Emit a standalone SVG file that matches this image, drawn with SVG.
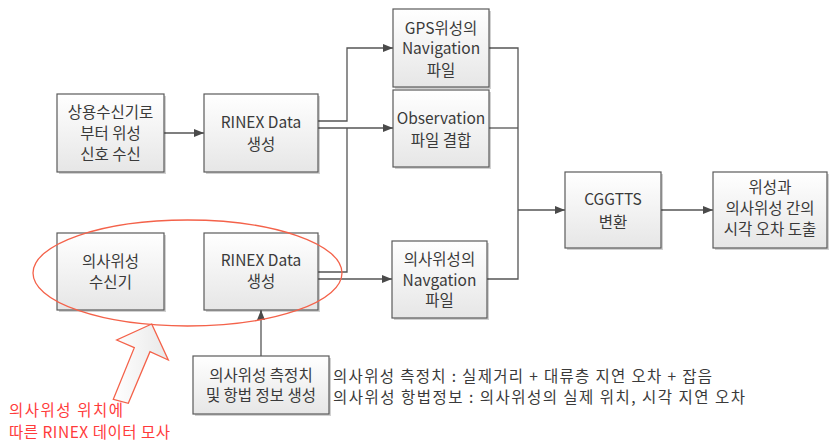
<svg xmlns="http://www.w3.org/2000/svg" width="830" height="442" viewBox="0 0 830 442">
<defs>
<linearGradient id="boxg" x1="0" y1="0" x2="0" y2="1">
<stop offset="0" stop-color="#ffffff"/>
<stop offset="1" stop-color="#e6e6e6"/>
</linearGradient>
<linearGradient id="arrg" x1="0" y1="0" x2="1" y2="0">
<stop offset="0" stop-color="#ffffff"/>
<stop offset="1" stop-color="#e8e8e8"/>
</linearGradient>
<marker id="ah" markerUnits="userSpaceOnUse" markerWidth="10" markerHeight="8" refX="10" refY="4" orient="auto">
<path d="M0,0 L10,4 L0,8 z" fill="#4a4a4a"/>
</marker>
</defs>
<style>
.box{fill:url(#boxg);stroke:#5a5a5a;stroke-width:1.2}
.sh{fill:#000;opacity:0.18}
.t{font-family:"Noto Sans CJK KR","Noto Sans",sans-serif;font-size:15.5px;fill:#3a3a3a;text-anchor:middle}
.ann{font-family:"Noto Sans CJK KR","Noto Sans",sans-serif;font-size:15.5px;fill:#3a3a3a}
.red{font-family:"Noto Sans CJK KR","Noto Sans",sans-serif;font-size:15.5px;fill:#ff3b3b}
.c{fill:none;stroke:#555555;stroke-width:1.3}
.ca{fill:none;stroke:#555555;stroke-width:1.3;marker-end:url(#ah)}
</style>
<rect width="830" height="442" fill="#ffffff"/>

<g id="connectors">
<path class="ca" d="M164,133 H204"/>
<path class="ca" d="M318,121 H347 V48 H393"/>
<path class="ca" d="M318,128 H393"/>
<path class="c" d="M318,272 H347 V128"/>
<path class="ca" d="M318,279 H392"/>
<path class="c" d="M489,48 H518 V279 H487"/>
<path class="c" d="M489,128 H518"/>
<path class="ca" d="M518,210 H565"/>
<path class="ca" d="M661,210 H713"/>
<path class="ca" d="M261,356 V310"/>
</g>

<g id="n_commercial">
<rect class="sh" x="59" y="96" width="107" height="78"/>
<rect class="box" x="57" y="94" width="107" height="78"/>
<text class="t" x="110.5" y="117.6">상용수신기로</text>
<text class="t" x="110.5" y="138.6">부터 위성</text>
<text class="t" x="110.5" y="159.6">신호 수신</text>
</g>

<g id="n_rinex1">
<rect class="sh" x="206" y="96" width="114" height="78"/>
<rect class="box" x="204" y="94" width="114" height="78"/>
<text class="t" x="261" y="127.8">RINEX Data</text>
<text class="t" x="261" y="149.8">생성</text>
</g>

<g id="n_gpsnav">
<rect class="sh" x="395" y="11" width="96" height="78"/>
<rect class="box" x="393" y="9" width="96" height="78"/>
<text class="t" x="441" y="33.8">GPS위성의</text>
<text class="t" x="441" y="54.1">Navigation</text>
<text class="t" x="441" y="75.6">파일</text>
</g>

<g id="n_obs">
<rect class="sh" x="395" y="92" width="96" height="77"/>
<rect class="box" x="393" y="90" width="96" height="77"/>
<text class="t" x="441" y="123.6">Observation</text>
<text class="t" x="441" y="145.6">파일 결합</text>
</g>

<g id="n_cggtts">
<rect class="sh" x="567" y="174" width="96" height="76"/>
<rect class="box" x="565" y="172" width="96" height="76"/>
<text class="t" x="613" y="205.2">CGGTTS</text>
<text class="t" x="613" y="227.6">변환</text>
</g>

<g id="n_result">
<rect class="sh" x="715" y="174" width="114" height="76"/>
<rect class="box" x="713" y="172" width="114" height="76"/>
<text class="t" x="770" y="192.6">위성과</text>
<text class="t" x="770" y="214.1">의사위성 간의</text>
<text class="t" x="770" y="235.1">시각 오차 도출</text>
</g>

<g id="n_plnav">
<rect class="sh" x="394" y="243" width="95" height="77"/>
<rect class="box" x="392" y="241" width="95" height="77"/>
<text class="t" x="439.5" y="265.4">의사위성의</text>
<text class="t" x="439.5" y="285.6">Navgation</text>
<text class="t" x="439.5" y="305.8">파일</text>
</g>

<g id="n_plrecv">
<rect class="sh" x="59" y="235" width="107" height="77"/>
<rect class="box" x="57" y="233" width="107" height="77"/>
<text class="t" x="110.5" y="266.8">의사위성</text>
<text class="t" x="110.5" y="287.5">수신기</text>
</g>

<g id="n_rinex2">
<rect class="sh" x="206" y="235" width="114" height="77"/>
<rect class="box" x="204" y="233" width="114" height="77"/>
<text class="t" x="261" y="266.1">RINEX Data</text>
<text class="t" x="261" y="286.8">생성</text>
</g>

<g id="n_measure">
<rect class="sh" x="195" y="358" width="136" height="58"/>
<rect class="box" x="193" y="356" width="136" height="58"/>
<text class="t" x="261" y="380.6">의사위성 측정치</text>
<text class="t" x="261" y="401">및 항법 정보 생성</text>
</g>

<g id="annotation">
<text class="ann" x="333" y="382.4" textLength="379" lengthAdjust="spacing">의사위성 측정치 : 실제거리 + 대류층 지연 오차 + 잡음</text>
<text class="ann" x="333" y="403" textLength="412" lengthAdjust="spacing">의사위성 항법정보 : 의사위성의 실제 위치, 시각 지연 오차</text>
</g>

<g id="highlight">
<ellipse cx="187.5" cy="273" rx="154.5" ry="53" fill="none" stroke="#f4624a" stroke-width="1.3"/>
<path d="M151.7,324 L168.3,360 L150,351.7 L128.3,403.3 L113.3,399.3 L134.3,347.7 L116.7,340 Z" fill="url(#arrg)" stroke="#f4624a" stroke-width="1.3" stroke-linejoin="miter"/>
<text class="red" x="9" y="415.6" textLength="114" lengthAdjust="spacing">의사위성 위치에</text>
<text class="red" x="9" y="437.6" textLength="161" lengthAdjust="spacing">따른 RINEX 데이터 모사</text>
</g>
</svg>
